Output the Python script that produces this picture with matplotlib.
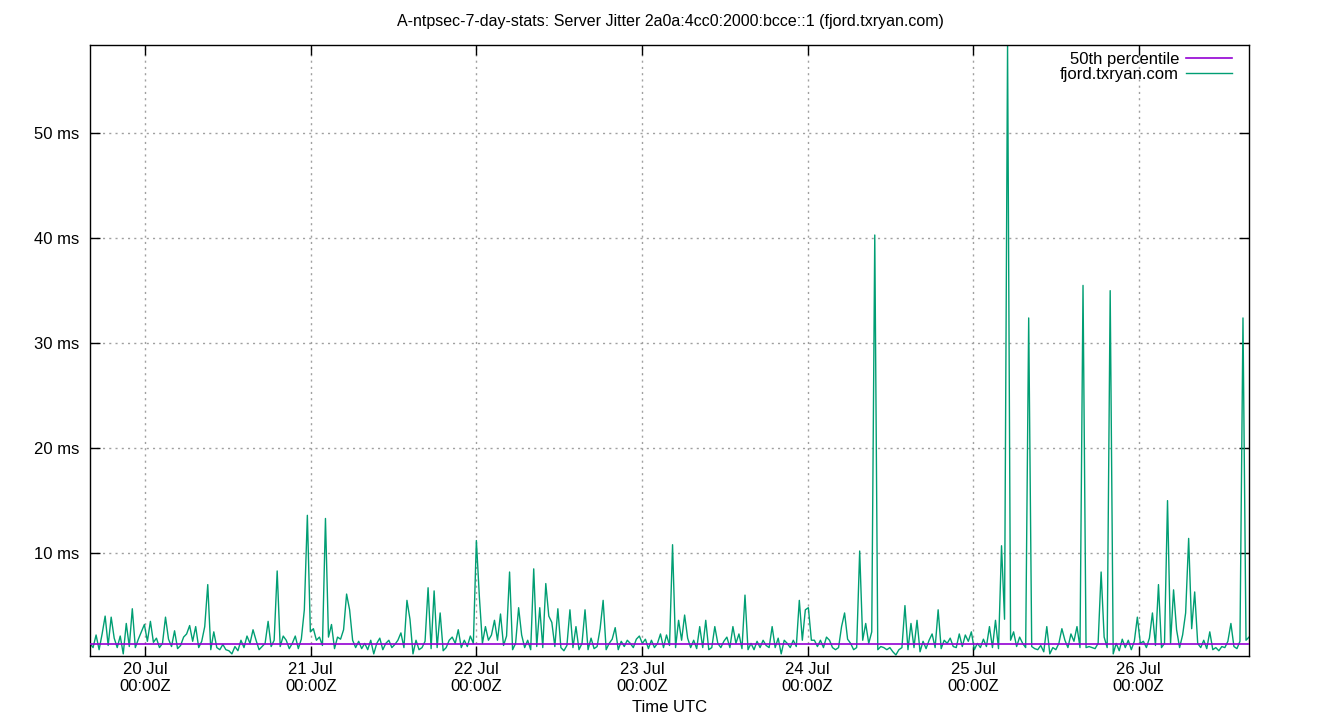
"""Server jitter over 7 days, gnuplot-style chart."""

import matplotlib
matplotlib.use('Agg')
import matplotlib.pyplot as plt
import matplotlib.dates as mdates
from matplotlib.ticker import FuncFormatter
import pandas as pd

plt.rcParams['font.family'] = ['Liberation Sans', 'DejaVu Sans']

TITLE = "A-ntpsec-7-day-stats: Server Jitter 2a0a:4cc0:2000:bcce::1 (fjord.txryan.com)"
SERVER = "fjord.txryan.com"

t_start = "2024-07-19 16:00"
t_end = "2024-07-26 16:00"

# jitter samples in ms (evenly spaced in time)
jitter_ms = [
    # 19 Jul 16h - 20 Jul
    1.4, 1.0, 2.2, 0.8, 2.3, 4.0, 1.2, 3.9, 1.9, 1.0, 2.1, 0.4, 3.3, 1.1, 4.7, 1.0,
    1.8, 2.5, 3.2, 1.6, 3.5, 1.5, 1.9, 1.0, 1.4, 3.9, 1.8, 1.1, 2.6, 0.9, 1.2, 2.0,
    2.3, 3.1, 1.6, 3.0, 1.0, 1.6, 3.0, 7.0, 0.8, 2.5, 1.0, 0.8, 1.3, 0.8, 0.7, 0.4,
    # 20 Jul - 21 Jul
    1.1, 0.7, 1.7, 1.0, 2.1, 1.4, 2.7, 1.7, 0.8, 1.1, 1.4, 3.5, 1.1, 1.7, 8.3, 1.1,
    2.1, 1.7, 0.9, 1.4, 2.1, 0.9, 1.8, 4.6, 13.6, 2.5, 2.8, 1.7, 2.0, 1.2, 13.3, 2.0,
    3.2, 0.9, 2.0, 1.8, 2.7, 6.1, 4.6, 1.7, 1.0, 1.6, 0.9, 1.4, 0.8, 1.7, 0.4, 1.4,
    # 21 Jul - 22 Jul
    1.9, 0.8, 1.4, 1.7, 1.0, 1.3, 1.7, 2.4, 1.0, 5.5, 3.7, 0.4, 1.7, 0.8, 1.0, 1.6,
    6.7, 0.9, 6.4, 1.0, 4.3, 0.7, 1.0, 1.7, 2.0, 1.4, 2.7, 1.0, 1.7, 1.1, 2.1, 1.4,
    11.2, 5.8, 1.4, 3.0, 1.7, 2.2, 3.6, 1.7, 4.2, 1.2, 2.1, 8.2, 0.8, 1.4, 4.8, 2.2,
    # 22 Jul - 23 Jul
    1.0, 1.7, 0.8, 8.5, 1.1, 4.8, 1.0, 7.1, 4.0, 3.4, 1.1, 4.7, 1.0, 0.7, 1.2, 4.6,
    1.0, 3.0, 0.8, 1.4, 4.6, 0.8, 1.9, 0.9, 1.1, 2.8, 5.5, 0.8, 1.4, 1.8, 2.9, 0.8,
    1.6, 1.1, 1.7, 1.4, 1.0, 1.8, 2.1, 1.4, 1.8, 0.9, 1.7, 1.0, 1.4, 2.3, 1.0, 2.2,
    # 23 Jul - 24 Jul
    1.2, 10.8, 1.0, 3.6, 1.7, 4.1, 1.9, 1.0, 1.7, 0.9, 3.0, 1.0, 3.6, 0.8, 1.0, 3.0,
    1.4, 1.0, 1.6, 2.0, 1.0, 3.0, 1.4, 2.3, 0.9, 6.0, 0.8, 1.4, 0.8, 1.6, 1.0, 1.7,
    1.2, 1.0, 3.0, 1.0, 1.9, 0.4, 1.7, 1.4, 1.0, 1.7, 1.1, 5.5, 1.7, 4.6, 4.8, 1.7,
    # 24 Jul - 25 Jul
    1.7, 1.1, 1.7, 1.0, 2.0, 1.7, 1.0, 0.8, 1.0, 3.0, 4.3, 1.8, 1.4, 0.8, 1.0, 10.2,
    1.7, 3.3, 1.4, 2.5, 40.3, 0.8, 1.1, 1.0, 0.8, 1.0, 0.6, 0.3, 0.8, 1.0, 5.0, 0.8,
    3.3, 1.0, 3.6, 0.6, 1.6, 0.9, 1.7, 2.3, 1.0, 4.6, 0.9, 1.7, 1.4, 1.9, 1.1, 1.0,
    # 25 Jul - 26 Jul
    2.3, 1.1, 2.2, 1.6, 2.5, 0.8, 1.4, 1.0, 1.8, 1.1, 3.0, 1.0, 3.6, 0.9, 10.7, 3.7,
    58.4, 1.7, 2.5, 1.1, 2.0, 1.4, 1.0, 32.4, 1.1, 0.9, 0.8, 1.2, 0.6, 3.0, 0.4, 1.0,
    0.8, 1.4, 2.8, 1.7, 1.0, 2.3, 1.6, 3.0, 1.0, 35.5, 1.0, 1.1, 1.0, 0.9, 1.4, 8.2,
    # 26 Jul - 26 Jul 16h
    2.0, 1.0, 35.0, 0.4, 1.4, 0.7, 1.8, 1.0, 1.7, 0.8, 1.6, 3.9, 1.4, 1.6, 1.0, 1.9,
    4.3, 1.2, 7.0, 1.0, 1.4, 15.0, 1.4, 6.5, 2.7, 1.0, 2.2, 4.3, 11.4, 2.8, 6.3, 1.4,
    1.0, 1.7, 0.9, 2.5, 0.8, 1.0, 0.7, 1.1, 1.0, 1.6, 3.3, 1.1, 0.9, 1.6, 32.4, 1.7,
    2.0,
]

p50_ms = 1.3
y_range = (0.2, 58.4)
y_ticks = [10, 20, 30, 40, 50]

times = pd.date_range(t_start, t_end, periods=len(jitter_ms))

fig = plt.figure(figsize=(13.4, 7.2), dpi=100)
ax = fig.add_axes([0.0672, 0.0889, 0.8649, 0.8486])

ax.plot([times[0], times[-1]], [p50_ms, p50_ms], color='#9400d3', lw=1.2,
        label='50th percentile', zorder=3)
ax.plot(times, jitter_ms, color='#009e73', lw=1.0, label=SERVER, zorder=2)

ax.set_xlim(times[0], times[-1])
ax.set_ylim(*y_range)
ax.set_yticks(y_ticks)
ax.yaxis.set_major_formatter(FuncFormatter(lambda v, p: f"{v:.0f} ms"))
ax.xaxis.set_major_locator(mdates.DayLocator())
ax.xaxis.set_major_formatter(mdates.DateFormatter('%d %b\n%H:%MZ'))

ax.grid(True, color='#a0a0a0', linestyle=(0, (1.5, 3)), linewidth=1.0)
ax.tick_params(direction='in', length=7, width=1, top=True, right=True,
               labelsize=12, colors='black')
ax.tick_params(axis='y', pad=8)
ax.tick_params(axis='x', pad=4)
for s in ax.spines.values():
    s.set_linewidth(1.0)
    s.set_color('black')

ax.set_xlabel("Time UTC", fontsize=12, labelpad=4)
fig.suptitle(TITLE, fontsize=11.5, y=0.98)

ax.legend(loc='upper right', bbox_to_anchor=(0.9855, 0.989), frameon=False,
          markerfirst=False, fontsize=12, handlelength=2.8, handletextpad=0.4,
          labelspacing=0.0, borderaxespad=0.0, borderpad=0.0)

fig.savefig('out.png', dpi=100)
